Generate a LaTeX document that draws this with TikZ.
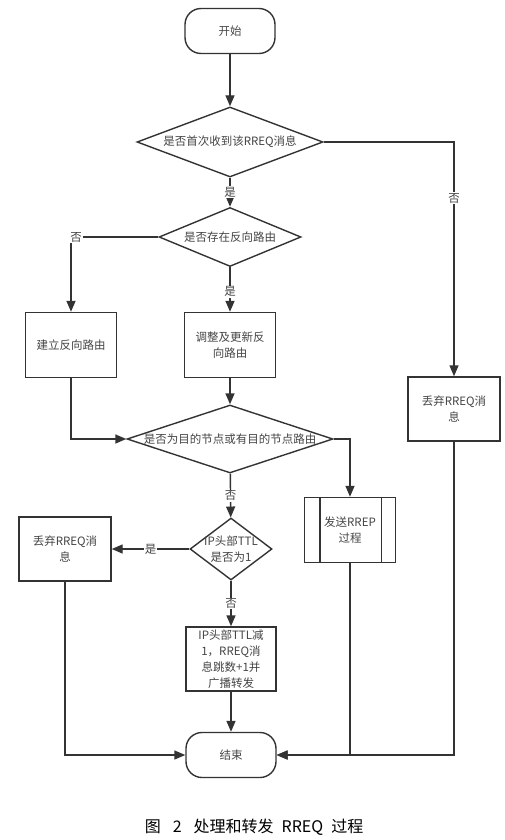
\documentclass[tikz,border=0pt]{standalone}
\usepackage{fontspec}
\setmainfont{Noto Sans CJK SC}
\usetikzlibrary{shapes.geometric,arrows.meta}
\definecolor{lc}{HTML}{333333}
\definecolor{tc}{HTML}{444444}
\begin{document}
\begin{tikzpicture}[x=1pt,y=-1pt,
  font=\fontsize{11.5}{16}\selectfont,
  every node/.style={text=tc},
  line/.style={draw=lc, line width=1.4pt},
  arr/.style={line, -{Triangle[length=11pt,width=9pt]}},
  term/.style={draw=lc, line width=1.4pt, rounded corners=16pt, minimum width=90pt, minimum height=45pt, inner sep=0pt},
  proc/.style={draw=lc, line width=1.4pt, minimum width=91pt, minimum height=65pt, align=center, inner sep=0pt},
  dec/.style={diamond, draw=lc, line width=1.4pt, inner sep=0pt, align=center},
  lbl/.style={fill=white, inner sep=1pt, text=tc}]
\useasboundingbox (0,0) rectangle (505,840);

\node[term] (start) at (230,31) {开始};
\node[dec, minimum width=186pt, minimum height=70pt, label={center:是否首次收到该RREQ消息}] (d1) at (230,142) {};
\node[dec, minimum width=142pt, minimum height=59pt, label={center:是否存在反向路由}] (d2) at (230,237) {};
\node[proc] (build) at (71,345) {建立反向路由};
\node[proc] (adjust) at (230,345) {调整及更新反\\向路由};
\node[proc, minimum width=92pt, minimum height=64pt] (drop1) at (454,409) {丢弃RREQ消\\息};
\node[dec, minimum width=206pt, minimum height=68pt, label={center:是否为目的节点或有目的节点路由}] (d3) at (230,439) {};
\node[proc] (rrep) at (350,530) {发送RREP\\过程};
\draw[line] ([xshift=16pt]rrep.north west) -- ([xshift=16pt]rrep.south west);
\draw[line] ([xshift=-15pt]rrep.north east) -- ([xshift=-15pt]rrep.south east);
\node[dec, minimum width=82pt, minimum height=62pt, label={[align=center]center:IP头部TTL\\是否为1}] (d4) at (231,549) {};
\node[proc, minimum width=92pt, minimum height=64pt] (drop2) at (65,549) {丢弃RREQ消\\息};
\node[proc, minimum width=90pt, minimum height=64pt] (fwd) at (231,659) {IP头部TTL减\\1，RREQ消\\息跳数+1并\\广播转发};
\node[term] (end) at (231,755) {结束};

\node[text=black, font=\fontsize{16}{18}\selectfont] (cap) at (254,827) {图\hspace{12pt}2\hspace{12pt}处理和转发\hspace{8pt}RREQ\hspace{8pt}过程};

\draw[arr] (start) -- (d1);
\draw[arr] (d1) -- node[lbl] {是} (d2);
\draw[arr] (d1.east) -| node[lbl, pos=0.62] {否} (drop1.north);
\draw[arr] (d2.west) -| node[lbl, pos=0.47] {否} (build.north);
\draw[arr] (d2) -- node[lbl, pos=0.55] {是} (adjust);
\draw[arr] (build.south) |- (d3.west);
\draw[arr] (adjust) -- (d3);
\draw[arr] (d3.east) -| (rrep.north);
\draw[arr] (d3) -- node[lbl] {否} (d4);
\draw[arr] (d4.west) -- node[lbl] {是} (drop2.east);
\draw[arr] (d4) -- node[lbl] {否} (fwd);
\draw[arr] (fwd) -- (end);
\draw[arr] (drop2.south) |- (end.west);
\draw[arr] (rrep.south) |- (end.east);
\draw[arr] (drop1.south) |- (end.east);
\end{tikzpicture}
\end{document}
